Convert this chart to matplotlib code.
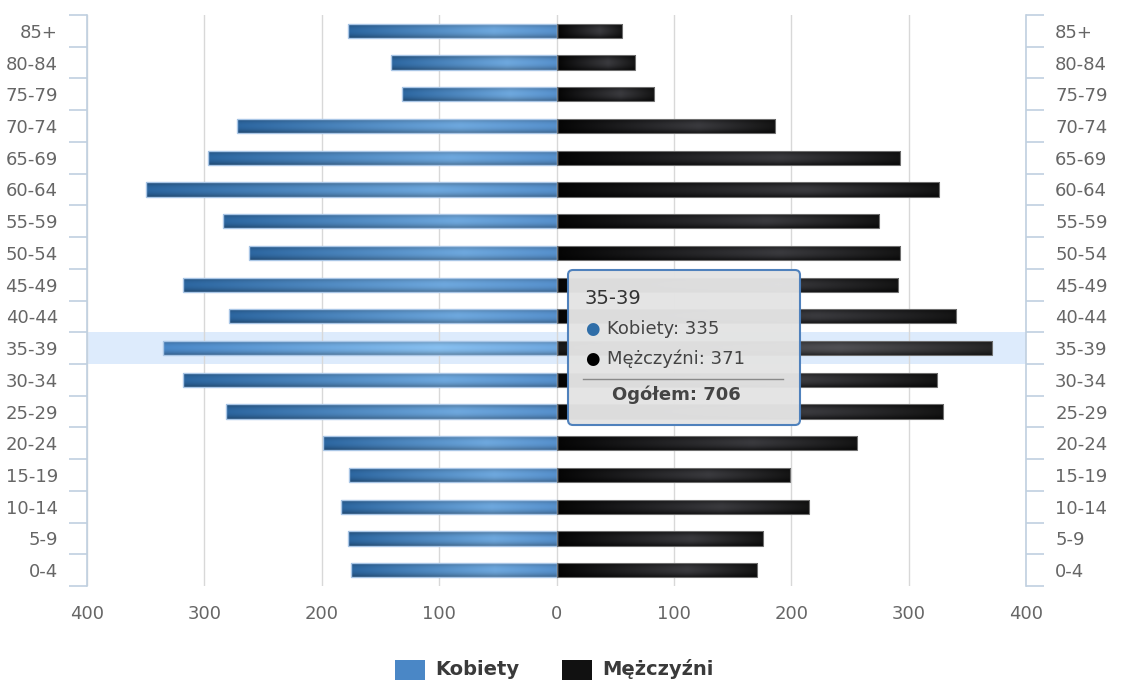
import numpy as np
import matplotlib
matplotlib.use("Agg")
import matplotlib.pyplot as plt
from matplotlib.colors import to_rgb
from matplotlib.patches import FancyBboxPatch, Rectangle
from matplotlib.lines import Line2D

# 1. Data
age_groups = ["0-4", "5-9", "10-14", "15-19", "20-24", "25-29", "30-34", "35-39",
              "40-44", "45-49", "50-54", "55-59", "60-64", "65-69", "70-74",
              "75-79", "80-84", "85+"]
kobiety = [175, 178, 184, 177, 199, 282, 318, 335, 279, 318, 262, 284, 350, 297,
           272, 132, 141, 178]
mezczyzni = [171, 176, 215, 199, 256, 329, 324, 371, 340, 291, 293, 275, 326, 293,
             186, 83, 67, 56]
x_ticks = [-400, -300, -200, -100, 0, 100, 200, 300, 400]
hover_group = "35-39"

W, H = 1122, 681
AXIS_COL = "#C0D0E0"
TEXT_COL = "#666666"


def px(x, y):
    # pixel from top-left -> inches for fig.dpi_scale_trans
    return x / 100.0, (H - y) / 100.0


def gradient(stops, n=200, m=24, edge_dark=0.3):
    # horizontal colour stops + darker top/bottom rows
    t = np.linspace(0, 1, n)
    pos = [s[0] for s in stops]
    cols = np.array([to_rgb(s[1]) for s in stops])
    row = np.stack([np.interp(t, pos, cols[:, k]) for k in range(3)], axis=-1)
    v = np.linspace(-1, 1, m)
    shade = 1 - edge_dark * np.abs(v) ** 2
    img = row[None, :, :] * shade[:, None, None]
    return np.clip(img, 0, 1)


blue_grad = gradient([(0, "#2C66A0"), (0.7, "#6EA8DE"), (1, "#5690CC")])
blue_hover = gradient([(0, "#4A88C8"), (0.7, "#88C0F0"), (1, "#6FA8E0")])
black_grad = gradient([(0, "#050505"), (0.65, "#3A3A3E"), (1, "#141414")], edge_dark=0.6)
black_hover = gradient([(0, "#1A1A1A"), (0.65, "#505054"), (1, "#262626")], edge_dark=0.5)

# 2. Figure
fig = plt.figure(figsize=(W / 100, H / 100), dpi=100)
ax = fig.add_axes([87 / W, 1 - 586 / H, (1026 - 87) / W, (586 - 15) / H])

y = np.arange(len(age_groups))
hi = age_groups.index(hover_group)
bar_h = 0.45

ax.axhspan(hi - 0.5, hi + 0.5, color="#DDEBFC", zorder=0.5, lw=0)

left_bars = ax.barh(y, [-v for v in kobiety], height=bar_h, facecolor="none",
                    edgecolor="#A9C6E6", linewidth=1, zorder=3)
right_bars = ax.barh(y, mezczyzni, height=bar_h, facecolor="none",
                     edgecolor="#6E6E6E", linewidth=0.8, zorder=3)

for i, bar in enumerate(left_bars):
    x0, y0, w, h = bar.get_x(), bar.get_y(), bar.get_width(), bar.get_height()
    img = blue_hover if i == hi else blue_grad
    im = ax.imshow(img, extent=(min(x0, x0 + w), max(x0, x0 + w), y0, y0 + h),
                   aspect="auto", origin="lower", zorder=2.9, interpolation="bilinear")
    im.set_clip_path(bar)

for i, bar in enumerate(right_bars):
    x0, y0, w, h = bar.get_x(), bar.get_y(), bar.get_width(), bar.get_height()
    img = black_hover if i == hi else black_grad
    im = ax.imshow(img, extent=(x0, x0 + w, y0, y0 + h),
                   aspect="auto", origin="lower", zorder=2.9, interpolation="bilinear")
    im.set_clip_path(bar)

ax.set_xlim(-400, 400)
ax.set_ylim(-0.5, len(age_groups) - 0.5)

# 3. Axes styling
ax.set_xticks(x_ticks)
ax.set_xticklabels([str(abs(v)) for v in x_ticks])
ax.grid(axis="x", color="#D8D8D8", linewidth=1, zorder=1)
ax.set_axisbelow(True)
ax.tick_params(axis="x", length=0, pad=14, labelsize=13, labelcolor=TEXT_COL)

ax.set_yticks(y)
ax.set_yticklabels(age_groups)
ax.set_yticks(np.arange(-0.5, len(age_groups), 1), minor=True)
ax.tick_params(axis="y", which="major", length=0, labelsize=13, labelcolor=TEXT_COL,
               left=True, right=True, labelleft=True, labelright=True)
ax.tick_params(axis="y", which="major", pad=21)
ax.tick_params(axis="y", which="minor", length=13, width=1.2, color=AXIS_COL,
               direction="out", left=True, right=True)

for side in ["top", "bottom"]:
    ax.spines[side].set_visible(False)
for side in ["left", "right"]:
    ax.spines[side].set_color(AXIS_COL)
    ax.spines[side].set_linewidth(1.2)

# 4. Tooltip for the hovered group
tr = fig.dpi_scale_trans
bx0, by0 = px(568, 425)
bx1, by1 = px(800, 270)
box = FancyBboxPatch((bx0, by0), bx1 - bx0, by1 - by0,
                     boxstyle="round,pad=0,rounding_size=0.05",
                     transform=tr, facecolor="#E4E4E4", edgecolor="#4A7EBB",
                     linewidth=1.5, alpha=0.97, zorder=10)
fig.patches.append(box)

fig.text(*px(585, 298), hover_group, transform=tr, fontsize=14, color="#333333",
         va="center", ha="left", zorder=11)
fig.text(*px(585, 329), "\u25CF", transform=tr, fontsize=12, color="#2F6EA8",
         va="center", ha="left", zorder=11)
fig.text(*px(607, 329), f"Kobiety: {kobiety[hi]}", transform=tr, fontsize=13,
         color="#444444", va="center", ha="left", zorder=11)
fig.text(*px(585, 359), "\u25CF", transform=tr, fontsize=12, color="#000000",
         va="center", ha="left", zorder=11)
fig.text(*px(607, 359), f"Mężczyźni: {mezczyzni[hi]}", transform=tr, fontsize=13,
         color="#444444", va="center", ha="left", zorder=11)
sx0, sy = px(583, 379)
sx1, _ = px(783, 379)
fig.lines.append(Line2D([sx0, sx1], [sy, sy], transform=tr, color="#8A8A8A",
                        linewidth=1, zorder=11))
fig.text(*px(612, 395), f"Ogółem: {kobiety[hi] + mezczyzni[hi]}", transform=tr,
         fontsize=13, fontweight="bold", color="#444444", va="center", ha="left",
         zorder=11)

# 5. Legend at the bottom
for (lx, col, label) in [(395, "#4A87C6", "Kobiety"), (562, "#111111", "Mężczyźni")]:
    rx, ry = px(lx, 680)
    fig.patches.append(Rectangle((rx, ry), 0.30, 0.20, transform=tr,
                                 facecolor=col, edgecolor="none"))
    fig.text(*px(lx + 40, 675), label, transform=tr, fontsize=14,
             fontweight="bold", color="#3A3A3A", va="baseline", ha="left")

plt.savefig("out.png", dpi=100)
